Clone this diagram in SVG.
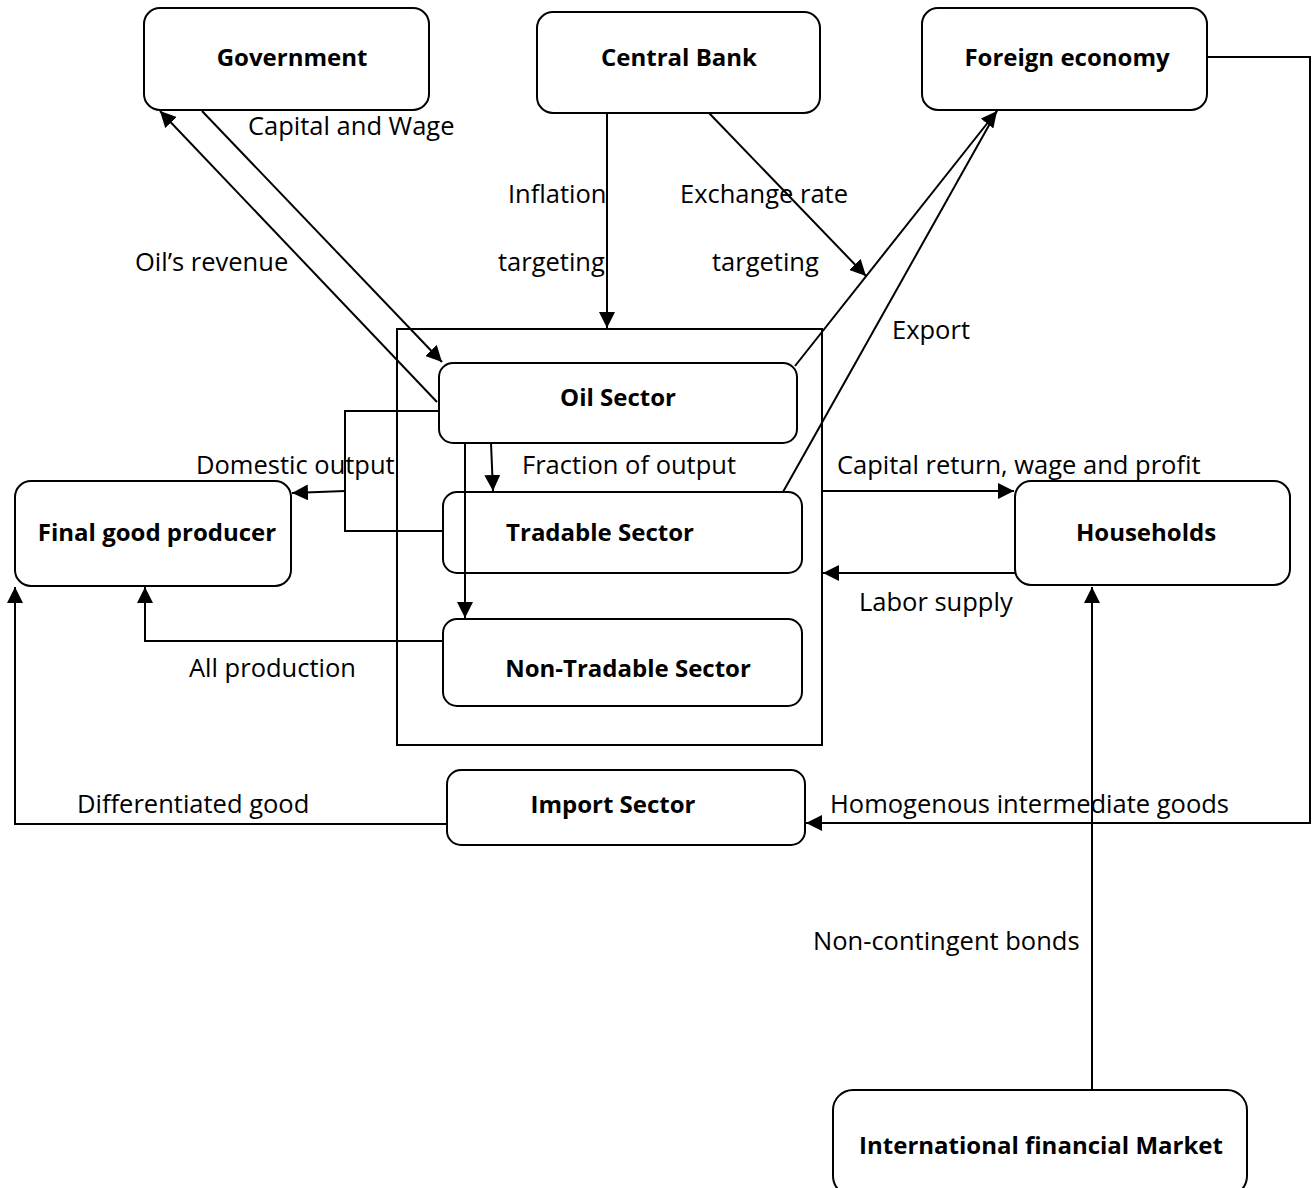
<svg xmlns="http://www.w3.org/2000/svg" width="1314" height="1188" viewBox="0 0 1314 1188">
<defs>
<style>
.node{fill:#fff;stroke:#000;stroke-width:2}
.t{font-family:"Open Sans","Liberation Sans",sans-serif;font-size:25.5px;fill:#000}
.b{font-family:"Open Sans","Liberation Sans",sans-serif;font-size:24px;font-weight:bold;fill:#000;text-anchor:middle}
.c{fill:none;stroke:#000;stroke-width:2}
</style>
<marker id="ah" viewBox="0 0 10 10" refX="10" refY="5" markerWidth="16" markerHeight="16" markerUnits="userSpaceOnUse" orient="auto">
<path d="M0,0 L10,5 L0,10 z" fill="#000"/>
</marker>
</defs>
<rect width="1314" height="1188" fill="#fff"/>
<g id="outer-box"><rect x="397" y="329" width="425" height="416" fill="none" stroke="#000" stroke-width="2"/></g>
<g id="government"><rect class="node" x="144" y="8" width="285" height="102" rx="16"/><text class="b" x="292" y="66">Government</text></g>
<g id="central-bank"><rect class="node" x="537" y="12" width="283" height="101" rx="16"/><text class="b" x="679" y="66">Central Bank</text></g>
<g id="foreign-economy"><rect class="node" x="922" y="8" width="285" height="102" rx="16"/><text class="b" x="1067" y="66">Foreign economy</text></g>
<g id="oil-sector"><rect class="node" x="439" y="363" width="358" height="80" rx="14"/><text class="b" x="618" y="406">Oil Sector</text></g>
<g id="tradable-sector"><rect class="node" x="443" y="492" width="359" height="81" rx="14"/><text class="b" x="600" y="541">Tradable Sector</text></g>
<g id="non-tradable-sector"><rect class="node" x="443" y="619" width="359" height="87" rx="14"/><text class="b" x="628" y="677">Non-Tradable Sector</text></g>
<g id="final-good-producer"><rect class="node" x="15" y="481" width="276" height="105" rx="16"/><text class="b" x="157" y="541">Final good producer</text></g>
<g id="households"><rect class="node" x="1015" y="481" width="275" height="104" rx="16"/><text class="b" x="1146" y="541">Households</text></g>
<g id="import-sector"><rect class="node" x="447" y="770" width="358" height="75" rx="14"/><text class="b" x="613" y="813">Import Sector</text></g>
<g id="international-financial-market"><rect class="node" x="833" y="1090" width="414" height="106" rx="20"/><text class="b" x="1041" y="1154">International financial Market</text></g>
<g id="connectors">
<path class="c" d="M437,402 L160,111" marker-end="url(#ah)"/>
<path class="c" d="M202,111 L442,362" marker-end="url(#ah)"/>
<path class="c" d="M607,113 L607,328" marker-end="url(#ah)"/>
<path class="c" d="M709,113 L866,276" marker-end="url(#ah)"/>
<path class="c" d="M795,366 L997,111" marker-end="url(#ah)"/>
<path class="c" d="M783,492 L997,111"/>
<path class="c" d="M1207,57 L1310,57 L1310,823 L806,823" marker-end="url(#ah)"/>
<path class="c" d="M822,491 L1014,491" marker-end="url(#ah)"/>
<path class="c" d="M1015,573 L823,573" marker-end="url(#ah)"/>
<path class="c" d="M1092,1090 L1092,587" marker-end="url(#ah)"/>
<path class="c" d="M447,824 L15,824 L15,587" marker-end="url(#ah)"/>
<path class="c" d="M443,641 L145,641 L145,587" marker-end="url(#ah)"/>
<path class="c" d="M439,411 L345,411 L345,531 L443,531"/>
<path class="c" d="M345,491 L292,493" marker-end="url(#ah)"/>
<path class="c" d="M465,443 L465,618" marker-end="url(#ah)"/>
<path class="c" d="M491,443 L493,491" marker-end="url(#ah)"/>
</g>
<g id="labels">
<text class="t" x="248" y="135">Capital and Wage</text>
<text class="t" x="135" y="271">Oil’s revenue</text>
<text class="t" x="508" y="203">Inflation</text>
<text class="t" x="498" y="271">targeting</text>
<text class="t" x="680" y="203">Exchange rate</text>
<text class="t" x="712" y="271">targeting</text>
<text class="t" x="892" y="339">Export</text>
<text class="t" x="196" y="474">Domestic output</text>
<text class="t" x="522" y="474">Fraction of output</text>
<text class="t" x="837" y="474">Capital return, wage and profit</text>
<text class="t" x="859" y="611">Labor supply</text>
<text class="t" x="189" y="677">All production</text>
<text class="t" x="77" y="813">Differentiated good</text>
<text class="t" x="830" y="813">Homogenous intermediate goods</text>
<text class="t" x="813" y="950">Non-contingent bonds</text>
</g>
</svg>
